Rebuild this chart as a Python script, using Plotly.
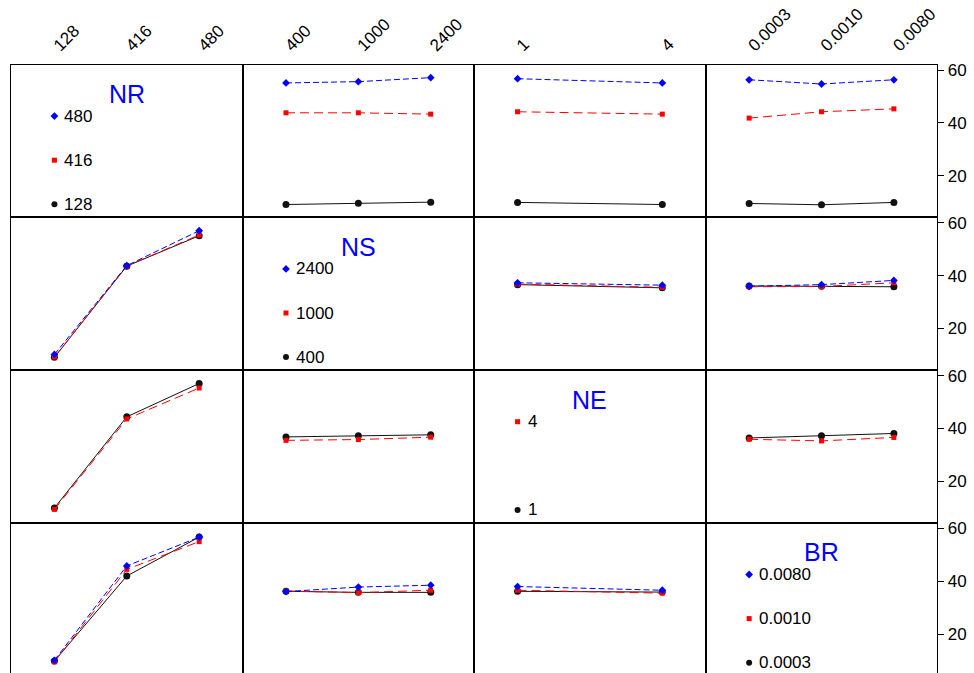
import plotly.graph_objects as go

W, H = 974, 673

# Factors and their levels (column order of the matrix)
factor_names = ["NR", "NS", "NE", "BR"]
nr_levels = ["128", "416", "480"]
ns_levels = ["400", "1000", "2400"]
ne_levels = ["1", "4"]
br_levels = ["0.0003", "0.0010", "0.0080"]
levels = [nr_levels, ns_levels, ne_levels, br_levels]

# Mean response per cell: one row per level of the line factor (low -> high),
# one value per level of the x factor
nr_by_ns = [[9.1, 9.6, 10.0], [43.8, 43.8, 43.3], [55.1, 55.6, 57.1]]
nr_by_ne = [[9.9, 9.1], [44.2, 43.3], [56.7, 55.1]]
nr_by_br = [[9.5, 9.0, 9.9], [41.8, 44.2, 45.3], [56.3, 54.7, 56.3]]
ns_by_nr = [[9.1, 43.6, 55.1], [9.2, 43.6, 55.4], [10.2, 43.8, 57.0]]
ns_by_ne = [[36.6, 35.4], [36.8, 35.6], [37.3, 36.4]]
ns_by_br = [[36.1, 36.0, 35.8], [35.8, 35.9, 37.3], [36.0, 36.6, 38.2]]
ne_by_nr = [[9.9, 44.4, 57.0], [9.4, 43.6, 55.3]]
ne_by_ns = [[36.8, 37.2, 37.6], [35.5, 35.8, 36.7]]
ne_by_br = [[36.4, 37.2, 38.1], [35.9, 35.3, 36.6]]
br_by_nr = [[9.8, 42.0, 56.7], [9.5, 44.5, 55.0], [10.1, 45.8, 56.7]]
br_by_ns = [[36.2, 35.8, 35.8], [36.3, 35.7, 36.6], [36.1, 37.8, 38.5]]
br_by_ne = [[36.2, 35.9], [36.6, 35.5], [38.0, 36.6]]

y_ticks = [20, 40, 60]

cells = {
    (0, 1): nr_by_ns, (0, 2): nr_by_ne, (0, 3): nr_by_br,
    (1, 0): ns_by_nr, (1, 2): ns_by_ne, (1, 3): ns_by_br,
    (2, 0): ne_by_nr, (2, 1): ne_by_ns, (2, 3): ne_by_br,
    (3, 0): br_by_nr, (3, 1): br_by_ns, (3, 2): br_by_ne,
}

# ---- page geometry (pixels) ----
LEFT, RIGHT, TOP = 11.0, 937.3, 64.5
ROW_H = 152.8
COL_W = (RIGHT - LEFT) / 4
PX_PER_UNIT = 2.643
Y_TOP_VAL = 62.08
X_RANGE = [-0.6, 2.6]
FONT = "Liberation Sans, Arial, sans-serif"

styles = [
    dict(color="#111111", dash="solid", symbol="circle", size=7, key=6),
    dict(color="#ff0000", dash="9px,5px", symbol="square", size=5, key=5),
    dict(color="#0000ff", dash="6px,3px", symbol="diamond", size=6, key=6),
]


def slots(n):
    return [0, 1, 2] if n == 3 else [0, 2]


def row_box(r):
    top = TOP + r * ROW_H
    bottom = min(top + ROW_H, H)
    return top, bottom


fig = go.Figure()
layout = dict(
    width=W, height=H, margin=dict(l=0, r=0, t=0, b=0, pad=0, autoexpand=False),
    paper_bgcolor="white", plot_bgcolor="white", showlegend=False,
    font=dict(family=FONT, size=16, color="black"),
)
annotations = []

extra = 17
for r in range(4):
    top, bottom = row_box(r)
    y_dom = [1 - bottom / H, 1 - top / H]
    y_lo = Y_TOP_VAL - (bottom - top) / PX_PER_UNIT
    for c in range(4):
        k = r * 4 + c + 1
        sfx = "" if k == 1 else str(k)
        x0 = LEFT + c * COL_W
        x_dom = [x0 / W, (x0 + COL_W) / W]

        xa = dict(
            domain=x_dom, range=X_RANGE, anchor="y" + sfx, automargin=False,
            showgrid=False, zeroline=False, fixedrange=True,
            showline=True, linecolor="black", linewidth=1,
            mirror=(r < 3), ticks="",
            tickvals=slots(len(levels[c])), ticktext=levels[c],
            showticklabels=(r == 0),
        )
        if r == 0:
            xa.update(side="top", tickangle=-45, ticklabelstandoff=2,
                      tickfont=dict(size=17, family=FONT, color="black"))
        if r == 3:
            xa.update(side="top", mirror=False)
        ya = dict(
            domain=y_dom, range=[y_lo, Y_TOP_VAL], anchor="x" + sfx,
            automargin=False,
            showgrid=False, zeroline=False, fixedrange=True,
            showline=True, linecolor="black", linewidth=1, mirror=True,
            ticks="", showticklabels=False,
        )
        if c == 3:
            ya.update(side="right", ticks="outside", ticklen=6, tickwidth=1,
                      tickcolor="black", tickvals=y_ticks, showticklabels=True,
                      tickfont=dict(size=17, family=FONT, color="black"))
            # inward half of the crossing tick marks
            inner = "yaxis" + str(extra)
            layout[inner] = dict(
                overlaying="y" + sfx, anchor="x" + sfx, side="right",
                automargin=False,
                range=[y_lo, Y_TOP_VAL], ticks="inside", ticklen=4,
                tickwidth=1, tickcolor="black", tickvals=y_ticks,
                showticklabels=False, showgrid=False, zeroline=False,
                showline=False, fixedrange=True,
            )
            extra += 1
        layout["xaxis" + sfx] = xa
        layout["yaxis" + sfx] = ya

        n_lines = len(levels[r])
        xs = slots(len(levels[c]))
        if r == c:
            # factor title and level key inside the diagonal cell
            annotations.append(dict(
                x=(x0 + COL_W / 2) / W, y=1 - (top + 29.5) / H,
                xref="paper", yref="paper", text=factor_names[r],
                showarrow=False, font=dict(size=25, color="#0000ff", family=FONT),
                xanchor="center", yanchor="middle",
            ))
            for i, lab in enumerate(levels[r]):
                s = slots(n_lines)[i]
                offset = 51.6 + (2 - s) * 44.1
                yv = Y_TOP_VAL - offset / PX_PER_UNIT
                st = styles[i]
                fig.add_trace(go.Scatter(
                    x=[0], y=[yv], xaxis="x" + sfx, yaxis="y" + sfx,
                    mode="markers",
                    marker=dict(symbol=st["symbol"], size=st["key"],
                                color=st["color"]),
                    hoverinfo="skip", cliponaxis=False,
                ))
                annotations.append(dict(
                    x=0, y=yv, xref="x" + sfx, yref="y" + sfx, text=lab,
                    showarrow=False, xanchor="left", yanchor="middle",
                    xshift=8, font=dict(size=17, color="black", family=FONT),
                ))
            continue
        data = cells[(r, c)]
        for i, vals in enumerate(data):
            st = styles[i]
            fig.add_trace(go.Scatter(
                x=xs, y=vals, xaxis="x" + sfx, yaxis="y" + sfx,
                mode="lines+markers", name=levels[r][i],
                line=dict(color=st["color"], dash=st["dash"], width=1),
                marker=dict(symbol=st["symbol"], size=st["size"],
                            color=st["color"]),
                cliponaxis=False,
            ))

layout["annotations"] = annotations
fig.update_layout(**layout)
fig.write_html("out.html")
